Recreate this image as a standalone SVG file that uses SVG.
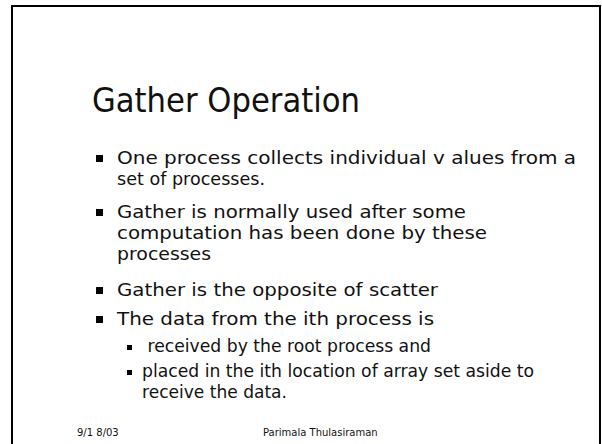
<svg xmlns="http://www.w3.org/2000/svg" width="602" height="444" viewBox="0 0 602 444">
<style>
.t{font-family:"DejaVu Sans",sans-serif;fill:#111}
.title{font-family:"DejaVu Sans Condensed","DejaVu Sans",sans-serif;font-size:34px}
.b{font-size:18px}
.s{font-size:17px}
.f{font-size:10px}
</style>
<rect x="0" y="0" width="602" height="444" fill="#fff"/>
<rect x="12" y="6" width="588" height="450" fill="none" stroke="#000" stroke-width="2"/>
<g id="title"><text class="t title" x="92" y="112" textLength="268" lengthAdjust="spacingAndGlyphs">Gather Operation</text></g>
<g id="bullets">
<rect x="96" y="155" width="7" height="7"/>
<text class="t b" x="117" y="164" textLength="459" lengthAdjust="spacingAndGlyphs">One process collects individual v alues from a</text>
<text class="t b" x="117" y="185" textLength="148" lengthAdjust="spacingAndGlyphs">set of processes.</text>
<rect x="96" y="209" width="7" height="7"/>
<text class="t b" x="117" y="218" textLength="349" lengthAdjust="spacingAndGlyphs">Gather is normally used after some</text>
<text class="t b" x="117" y="239" textLength="370" lengthAdjust="spacingAndGlyphs">computation has been done by these</text>
<text class="t b" x="117" y="260" textLength="94" lengthAdjust="spacingAndGlyphs">processes</text>
<rect x="96" y="287" width="7" height="7"/>
<text class="t b" x="117" y="296" textLength="321" lengthAdjust="spacingAndGlyphs">Gather is the opposite of scatter</text>
<rect x="96" y="316" width="7" height="7"/>
<text class="t b" x="117" y="325" textLength="317" lengthAdjust="spacingAndGlyphs">The data from the ith process is</text>
<rect x="127" y="345" width="5" height="5"/>
<text class="t s" x="142" y="352" xml:space="preserve" textLength="289" lengthAdjust="spacingAndGlyphs"> received by the root process and</text>
<rect x="127" y="370" width="5" height="5"/>
<text class="t s" x="142" y="377" textLength="392" lengthAdjust="spacingAndGlyphs">placed in the ith location of array set aside to</text>
<text class="t s" x="142" y="398" textLength="145" lengthAdjust="spacingAndGlyphs">receive the data.</text>
</g>
<g id="footer">
<text class="t f" x="77" y="436">9/1 8/03</text>
<text class="t f" x="263" y="436">Parimala Thulasiraman</text>
</g>
</svg>
